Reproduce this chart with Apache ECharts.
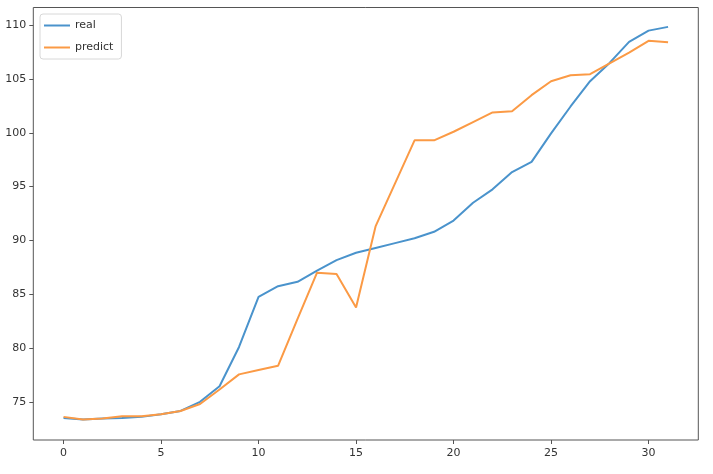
<!DOCTYPE html>
<html><head><meta charset="utf-8">
<script src="https://cdn.jsdelivr.net/npm/echarts@6/dist/echarts.min.js"></script>
<style>html,body{margin:0;padding:0;background:#fff}#c{width:713px;height:474px}</style>
</head><body><div id="c"></div>
<script>
const xIdx = Array.from({length:32},(_,i)=>i);
const realVals = [73.5,73.36,73.45,73.5,73.6,73.85,74.15,75.0,76.45,80.1,84.76,85.75,86.15,87.2,88.17,88.85,89.3,89.75,90.2,90.8,91.85,93.5,94.75,96.35,97.3,99.95,102.45,104.8,106.5,108.45,109.5,109.85];
const predictVals = [73.6,73.36,73.45,73.65,73.65,73.85,74.15,74.8,76.15,77.55,77.95,78.35,82.7,87.0,86.87,83.77,91.3,95.3,99.3,99.3,100.1,101.0,101.9,102.0,103.5,104.8,105.35,105.45,106.45,107.45,108.55,108.43];
const xTicks = [0,5,10,15,20,25,30];
const yTicks = [75,80,85,90,95,100,105,110];
const seriesNames = ['real','predict'];

const chart = echarts.init(document.getElementById('c'), null, {renderer:'canvas'});
const font = {fontFamily:'DejaVu Sans', fontSize:11, color:'#333'};
chart.setOption({
  animation:false,
  grid:{left:33.3, right:14.7, top:7.5, bottom:34, show:true, borderColor:'#555', borderWidth:1, backgroundColor:'#fff'},
  legend:{
    data:seriesNames, orient:'vertical', left:40, top:14,
    icon:'rect', itemWidth:26, itemHeight:2, itemGap:11,
    backgroundColor:'#fff', borderColor:'#d8d8d8', borderWidth:1, borderRadius:3,
    padding:[6,8,6,4],
    textStyle:{fontFamily:'DejaVu Sans', fontSize:11, color:'#333'}
  },
  xAxis:{type:'value', min:-1.55, max:32.55,
    axisLine:{show:false, onZero:false}, splitLine:{show:false},
    axisTick:{show:true, customValues:xTicks, length:4, lineStyle:{color:'#555'}},
    axisLabel:{customValues:xTicks, margin:8, ...font}
  },
  yAxis:{type:'value', min:71.45, max:111.65,
    axisLine:{show:false, onZero:false}, splitLine:{show:false},
    axisTick:{show:true, customValues:yTicks, length:4, lineStyle:{color:'#555'}},
    axisLabel:{customValues:yTicks, margin:7, ...font}
  },
  series:[
    {name:seriesNames[0], type:'line', showSymbol:false, data:xIdx.map((x,i)=>[x,realVals[i]]),
     lineStyle:{color:'#4a93cc', width:2}, itemStyle:{color:'#4a93cc'}},
    {name:seriesNames[1], type:'line', showSymbol:false, data:xIdx.map((x,i)=>[x,predictVals[i]]),
     lineStyle:{color:'#fb9a45', width:2}, itemStyle:{color:'#fb9a45'}}
  ]
});
</script></body></html>
